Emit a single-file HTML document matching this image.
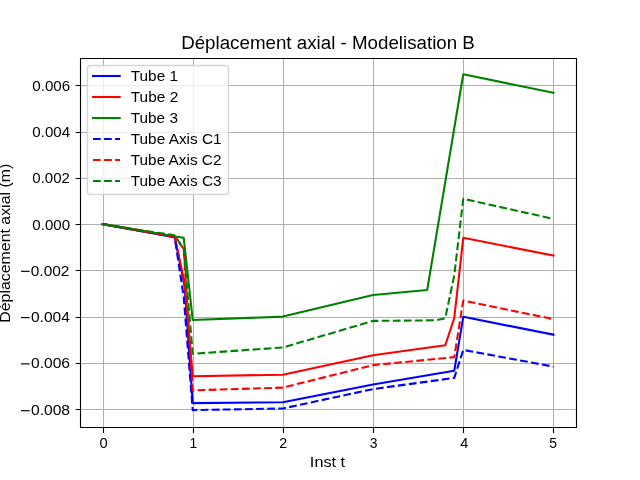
<!DOCTYPE html><html><head><meta charset="utf-8"><title>Deplacement axial - Modelisation B</title><style>html,body{margin:0;padding:0;background:#fff;width:640px;height:480px;overflow:hidden}svg{display:block;will-change:transform}text{font-family:"Liberation Sans",sans-serif;fill:#000}</style></head><body>
<svg width="640" height="480" viewBox="0 0 640 480">
<rect x="0" y="0" width="640" height="480" fill="#fff"/>
<defs><clipPath id="ax"><rect x="80" y="57.6" width="496" height="369.6"/></clipPath></defs>
<path d="M103.5 57.6V427.2M193.5 57.6V427.2M283.5 57.6V427.2M373.5 57.6V427.2M463.5 57.6V427.2M553.5 57.6V427.2M80 85.5H576M80 132.5H576M80 178.5H576M80 224.5H576M80 270.5H576M80 317.5H576M80 363.5H576M80 409.5H576" stroke="#b0b0b0" stroke-width="1.111" fill="none"/>
<path clip-path="url(#ax)" d="M102.545 224.127 L174.691 237.1 L184.6 286 L192.727 403.163 L282.909 402.237 L373.091 384.417 L454.255 370.763 L463.273 316.84 L553.455 334.66" stroke="#0000ff" stroke-width="2.083" fill="none" stroke-linejoin="round" stroke-linecap="square"/>
<path clip-path="url(#ax)" d="M102.545 224.127 L174.691 236.6 L184.6 283 L192.727 376.248 L282.909 374.697 L373.091 355.257 L445.236 345.306 L454.255 317.997 L463.273 237.853 L553.455 255.581" stroke="#ff0000" stroke-width="2.083" fill="none" stroke-linejoin="round" stroke-linecap="square"/>
<path clip-path="url(#ax)" d="M102.545 224.127 L174.691 236.5 L183.709 237.807 L192.727 320.011 L282.909 316.609 L373.091 294.993 L427.2 289.994 L463.273 74.21 L553.455 92.886" stroke="#008000" stroke-width="2.083" fill="none" stroke-linejoin="round" stroke-linecap="square"/>
<path clip-path="url(#ax)" d="M102.545 224.127 L174.691 237.1" stroke="#0000ff" stroke-width="2.083" fill="none" stroke-linecap="butt" stroke-dasharray="7.738 3.347"/>
<path clip-path="url(#ax)" d="M174.691 237.1 L183.709 297 L192.727 410.106 L282.909 408.486 L373.091 389.046 L454.255 377.937 L463.273 349.935 L553.455 366.597" stroke="#0000ff" stroke-width="2.083" fill="none" stroke-linejoin="round" stroke-linecap="butt" stroke-dasharray="7.738 3.347" stroke-dashoffset="6.458"/>
<path clip-path="url(#ax)" d="M102.545 224.127 L174.691 236.6" stroke="#ff0000" stroke-width="2.083" fill="none" stroke-linecap="butt" stroke-dasharray="7.738 3.347"/>
<path clip-path="url(#ax)" d="M174.691 236.6 L183.709 248.8 L192.727 390.4 L282.909 387.6 L373.091 365.139 L454.255 357.109 L463.273 300.64 L553.455 319.1" stroke="#ff0000" stroke-width="2.083" fill="none" stroke-linejoin="round" stroke-linecap="butt" stroke-dasharray="7.738 3.347" stroke-dashoffset="4.321"/>
<path clip-path="url(#ax)" d="M102.545 224.127 L174.691 235.4" stroke="#008000" stroke-width="2.083" fill="none" stroke-linecap="butt" stroke-dasharray="7.738 3.347"/>
<path clip-path="url(#ax)" d="M174.691 235.4 L183.709 248.8 L192.727 353.753 L282.909 347.505 L373.091 320.89 L436.218 320.3 L445.236 318.3 L454.255 275.414 L463.273 198.811 L553.455 218.9" stroke="#008000" stroke-width="2.083" fill="none" stroke-linejoin="round" stroke-linecap="butt" stroke-dasharray="7.738 3.347" stroke-dashoffset="6.911"/>
<path d="M80.5 58V428M576.5 58V428M80 58.5H577M80 427.5H577" stroke="#000" stroke-width="1.111" fill="none"/>
<path d="M103.5 427.5V432.961M193.5 427.5V432.961M283.5 427.5V432.961M373.5 427.5V432.961M463.5 427.5V432.961M553.5 427.5V432.961M80.5 85.5H75.639M80.5 132.5H75.639M80.5 178.5H75.639M80.5 224.5H75.639M80.5 270.5H75.639M80.5 317.5H75.639M80.5 363.5H75.639M80.5 409.5H75.639" stroke="#000" stroke-width="1.111" fill="none"/>
<rect x="21" y="270.763" width="8.7" height="1.15" fill="#000"/>
<rect x="21" y="317.025" width="8.7" height="1.15" fill="#000"/>
<rect x="21" y="363.311" width="8.7" height="1.15" fill="#000"/>
<rect x="21" y="410.149" width="8.7" height="1.15" fill="#000"/>
<text transform="translate(103.476 447.622) scale(0.9972 1)" font-size="14.72" text-anchor="middle">0</text>
<text transform="translate(193.391 447.5) scale(0.9352 1)" font-size="14.72" text-anchor="middle">1</text>
<text transform="translate(283.081 447.5) scale(0.9589 1)" font-size="14.72" text-anchor="middle">2</text>
<text transform="translate(373.589 447.615) scale(0.9458 1)" font-size="14.72" text-anchor="middle">3</text>
<text transform="translate(464.406 447.992) scale(0.9889 1)" font-size="14.72" text-anchor="middle">4</text>
<text transform="translate(553.219 448.019) scale(0.9428 1)" font-size="14.72" text-anchor="middle">5</text>
<text transform="translate(70.271 90.747) scale(1.0326 1)" font-size="14.72" text-anchor="end">0.006</text>
<text transform="translate(70.192 136.964) scale(1.0290 1)" font-size="14.72" text-anchor="end">0.004</text>
<text transform="translate(69.906 183.165) scale(1.0207 1)" font-size="14.72" text-anchor="end">0.002</text>
<text transform="translate(70.049 230.128) scale(1.0250 1)" font-size="14.72" text-anchor="end">0.000</text>
<text transform="translate(69.483 275.688) scale(1.0513 1)" font-size="14.72" text-anchor="end">0.002</text>
<text transform="translate(69.838 321.95) scale(1.0565 1)" font-size="14.72" text-anchor="end">0.004</text>
<text transform="translate(70.006 368.236) scale(1.0610 1)" font-size="14.72" text-anchor="end">0.006</text>
<text transform="translate(70.01 415.074) scale(1.0611 1)" font-size="14.72" text-anchor="end">0.008</text>
<text transform="translate(327.49 466.5) scale(1.1058 1)" font-size="14.72" text-anchor="middle">Inst t</text>
<text transform="translate(10.15 243.254) rotate(-90) scale(1.0809 1)" font-size="14.72" text-anchor="middle">D&#233;placement axial (m)</text>
<text transform="translate(328 49.298) scale(1.0617 1)" font-size="17.66" text-anchor="middle">D&#233;placement axial - Modelisation B</text>
<path d="M90.5 65.5H225.5Q228.5 65.5 228.5 68.5V191.5Q228.5 194.5 225.5 194.5H90.5Q87.5 194.5 87.5 191.5V68.5Q87.5 65.5 90.5 65.5Z" fill="#fff" fill-opacity="0.8" stroke="#cccccc" stroke-opacity="0.8" stroke-width="1.389"/>
<path d="M93 76H119.7" stroke="#0000ff" stroke-width="2.083" stroke-linecap="square" fill="none"/>
<path d="M93 97H119.7" stroke="#ff0000" stroke-width="2.083" stroke-linecap="square" fill="none"/>
<path d="M93 118H119.7" stroke="#008000" stroke-width="2.083" stroke-linecap="square" fill="none"/>
<path d="M93 139H120" stroke="#0000ff" stroke-width="2.083" stroke-linecap="butt" stroke-dasharray="7.708 3.333" fill="none"/>
<path d="M93 160H120" stroke="#ff0000" stroke-width="2.083" stroke-linecap="butt" stroke-dasharray="7.708 3.333" fill="none"/>
<path d="M93 181H120" stroke="#008000" stroke-width="2.083" stroke-linecap="butt" stroke-dasharray="7.708 3.333" fill="none"/>
<text transform="translate(130.738 81.08) scale(1.0461 1)" font-size="14.72" text-anchor="start">Tube 1</text>
<text transform="translate(130.742 101.688) scale(1.0485 1)" font-size="14.72" text-anchor="start">Tube 2</text>
<text transform="translate(130.743 122.646) scale(1.0439 1)" font-size="14.72" text-anchor="start">Tube 3</text>
<text transform="translate(130.743 143.604) scale(1.0458 1)" font-size="14.72" text-anchor="start">Tube Axis C1</text>
<text transform="translate(130.744 164.812) scale(1.0443 1)" font-size="14.72" text-anchor="start">Tube Axis C2</text>
<text transform="translate(130.744 185.77) scale(1.0445 1)" font-size="14.72" text-anchor="start">Tube Axis C3</text>
</svg></body></html>
